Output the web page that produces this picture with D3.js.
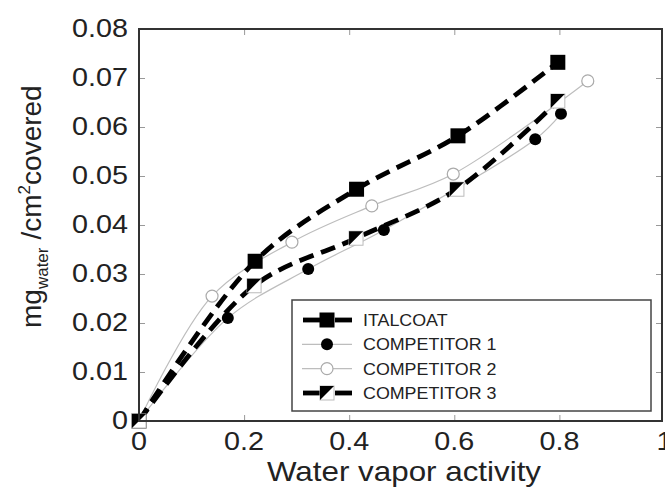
<!DOCTYPE html>
<html>
<head>
<meta charset="utf-8">
<script src="https://cdn.jsdelivr.net/npm/d3@7"></script>
<style>
  body { margin: 0; background: #fff; }
  svg { display: block; font-family: "Liberation Sans", Arial, sans-serif; }
</style>
</head>
<body>
<div id="chart"></div>
<script>
// datos
const xTicks = [0, 0.2, 0.4, 0.6, 0.8, 1];
const yTicks = [0, 0.01, 0.02, 0.03, 0.04, 0.05, 0.06, 0.07, 0.08];
const xTickLabels = ["0", "0.2", "0.4", "0.6", "0.8", "1"];
const yTickLabels = ["0", "0.01", "0.02", "0.03", "0.04", "0.05", "0.06", "0.07", "0.08"];
const seriesNames = ["ITALCOAT", "COMPETITOR 1", "COMPETITOR 2", "COMPETITOR 3"];

const italcoatX = [0, 0.221, 0.414, 0.607, 0.797];
const italcoatY = [0, 0.0326, 0.0473, 0.0582, 0.0732];
const comp1X = [0, 0.169, 0.322, 0.466, 0.754, 0.803];
const comp1Y = [0, 0.021, 0.031, 0.039, 0.0575, 0.0627];
const comp2X = [0, 0.139, 0.291, 0.443, 0.598, 0.854];
const comp2Y = [0, 0.0255, 0.0365, 0.0439, 0.0504, 0.0694];
const comp3X = [0, 0.219, 0.413, 0.605, 0.797];
const comp3Y = [0, 0.0276, 0.0373, 0.0473, 0.0653];

const width = 665, height = 496;
const plot = { left: 139, top: 29, right: 662, bottom: 421 };

const svg = d3.select("#chart").append("svg")
    .attr("width", width)
    .attr("height", height);

const x = d3.scaleLinear().domain([0, 1]).range([plot.left, 664.5]);
const y = d3.scaleLinear().domain([0, 0.08]).range([plot.bottom, plot.top]);

const toPts = (xs, ys) => xs.map((v, i) => ({ x: v, y: ys[i] }));
const series = [
    { name: seriesNames[0], pts: toPts(italcoatX, italcoatY), kind: "thick", marker: "square" },
    { name: seriesNames[1], pts: toPts(comp1X, comp1Y), kind: "thin", marker: "dot" },
    { name: seriesNames[2], pts: toPts(comp2X, comp2Y), kind: "thin", marker: "open" },
    { name: seriesNames[3], pts: toPts(comp3X, comp3Y), kind: "thick", marker: "half" }
];

// ticks hacia adentro en los 4 lados
const tickCol = "#999";
svg.append("g")
    .attr("transform", `translate(0,${plot.bottom})`)
    .call(d3.axisTop(x).tickValues(xTicks.slice(1, -1)).tickSize(6).tickFormat(""))
    .call(g => g.select(".domain").remove())
    .call(g => g.selectAll("line").attr("stroke", tickCol));
svg.append("g")
    .attr("transform", `translate(0,${plot.top})`)
    .call(d3.axisBottom(x).tickValues(xTicks.slice(1, -1)).tickSize(6).tickFormat(""))
    .call(g => g.select(".domain").remove())
    .call(g => g.selectAll("line").attr("stroke", tickCol));
svg.append("g")
    .attr("transform", `translate(${plot.left},0)`)
    .call(d3.axisRight(y).tickValues(yTicks.slice(1, -1)).tickSize(6).tickFormat(""))
    .call(g => g.select(".domain").remove())
    .call(g => g.selectAll("line").attr("stroke", tickCol));
svg.append("g")
    .attr("transform", `translate(${plot.right},0)`)
    .call(d3.axisLeft(y).tickValues(yTicks.slice(1, -1)).tickSize(6).tickFormat(""))
    .call(g => g.select(".domain").remove())
    .call(g => g.selectAll("line").attr("stroke", tickCol));

// etiquetas de los ejes (un poco estiradas a lo ancho como en el original)
const stretch = 1.15;
svg.append("g").selectAll("text")
    .data(xTicks)
    .join("text")
    .attr("transform", d => `translate(${x(d)},450) scale(${stretch},1)`)
    .attr("text-anchor", "middle")
    .attr("font-size", 25)
    .attr("fill", "#222")
    .text((d, i) => xTickLabels[i]);

svg.append("g").selectAll("text")
    .data(yTicks)
    .join("text")
    .attr("transform", d => `translate(128,${y(d) + 8}) scale(${stretch},1)`)
    .attr("text-anchor", "end")
    .attr("font-size", 25)
    .attr("fill", "#222")
    .text((d, i) => yTickLabels[i]);

svg.append("text")
    .attr("transform", `translate(404,481) scale(1.12,1)`)
    .attr("text-anchor", "middle")
    .attr("font-size", 28)
    .attr("fill", "#222")
    .text("Water vapor activity");

const yl = svg.append("text")
    .attr("transform", "translate(41,328) rotate(-90)")
    .attr("font-size", 28)
    .attr("fill", "#222");
yl.append("tspan").text("mg");
yl.append("tspan").attr("font-size", 17).attr("dy", 7).text("water");
yl.append("tspan").attr("dy", -7).attr("dx", 8).text("/cm");
yl.append("tspan").attr("font-size", 17).attr("dy", -11).text("2");
yl.append("tspan").attr("dy", 11).text("covered");

// lineas
const line = d3.line()
    .x(d => x(d.x))
    .y(d => y(d.y))
    .curve(d3.curveCatmullRom.alpha(0.5));

function styleLine(sel, kind) {
    if (kind === "thick") {
        sel.attr("stroke", "#000").attr("stroke-width", 4.8).attr("stroke-dasharray", "15,8");
    } else {
        sel.attr("stroke", "#bdbdbd").attr("stroke-width", 1.2);
    }
    return sel.attr("fill", "none");
}

// primero las finas, luego las gruesas
const order = [1, 2, 0, 3];
order.forEach(i => {
    svg.append("path")
        .attr("d", line(series[i].pts))
        .call(styleLine, series[i].kind);
});

function drawMarker(g, type, cx, cy) {
    if (type === "square") {
        g.append("rect").attr("x", cx - 7.5).attr("y", cy - 7.5).attr("width", 15).attr("height", 15).attr("fill", "#000");
    } else if (type === "dot") {
        g.append("circle").attr("cx", cx).attr("cy", cy).attr("r", 6).attr("fill", "#000");
    } else if (type === "open") {
        g.append("circle").attr("cx", cx).attr("cy", cy).attr("r", 6).attr("fill", "#fff")
            .attr("stroke", "#aaa").attr("stroke-width", 1.2);
    } else if (type === "half") {
        g.append("rect").attr("x", cx - 7).attr("y", cy - 7).attr("width", 14).attr("height", 14)
            .attr("fill", "#fff").attr("stroke", "#bbb").attr("stroke-width", 1);
        g.append("path")
            .attr("d", `M${cx - 7},${cy - 7}L${cx + 7},${cy - 7}L${cx - 7},${cy + 7}Z`)
            .attr("fill", "#000");
    }
}

const markers = svg.append("g");
[2, 1, 0, 3].forEach(i => {
    series[i].pts.forEach(p => drawMarker(markers, series[i].marker, x(p.x), y(p.y)));
});

// marco
svg.append("rect")
    .attr("x", plot.left)
    .attr("y", plot.top)
    .attr("width", plot.right - plot.left)
    .attr("height", plot.bottom - plot.top)
    .attr("fill", "none")
    .attr("stroke", "#333")
    .attr("stroke-width", 2);

// leyenda
const leg = svg.append("g");
leg.append("rect")
    .attr("x", 292).attr("y", 300)
    .attr("width", 359).attr("height", 111)
    .attr("fill", "#fff")
    .attr("stroke", "#444")
    .attr("stroke-width", 1.5);

const legY = d3.scalePoint().domain(seriesNames).range([320, 393]);
series.forEach(s => {
    const ly = legY(s.name);
    if (s.kind === "thick") {
        leg.append("line").attr("x1", 303).attr("x2", 320).attr("y1", ly).attr("y2", ly)
            .attr("stroke", "#000").attr("stroke-width", 4.8);
        leg.append("line").attr("x1", 335).attr("x2", 352).attr("y1", ly).attr("y2", ly)
            .attr("stroke", "#000").attr("stroke-width", 4.8);
    } else {
        leg.append("line").attr("x1", 302).attr("x2", 352).attr("y1", ly).attr("y2", ly)
            .attr("stroke", "#bdbdbd").attr("stroke-width", 1.2);
    }
    drawMarker(leg, s.marker, 327, ly);
    leg.append("text")
        .attr("transform", `translate(363,${ly + 6}) scale(1.05,1)`)
        .attr("font-size", 17)
        .attr("fill", "#222")
        .text(s.name);
});
</script>
</body>
</html>
